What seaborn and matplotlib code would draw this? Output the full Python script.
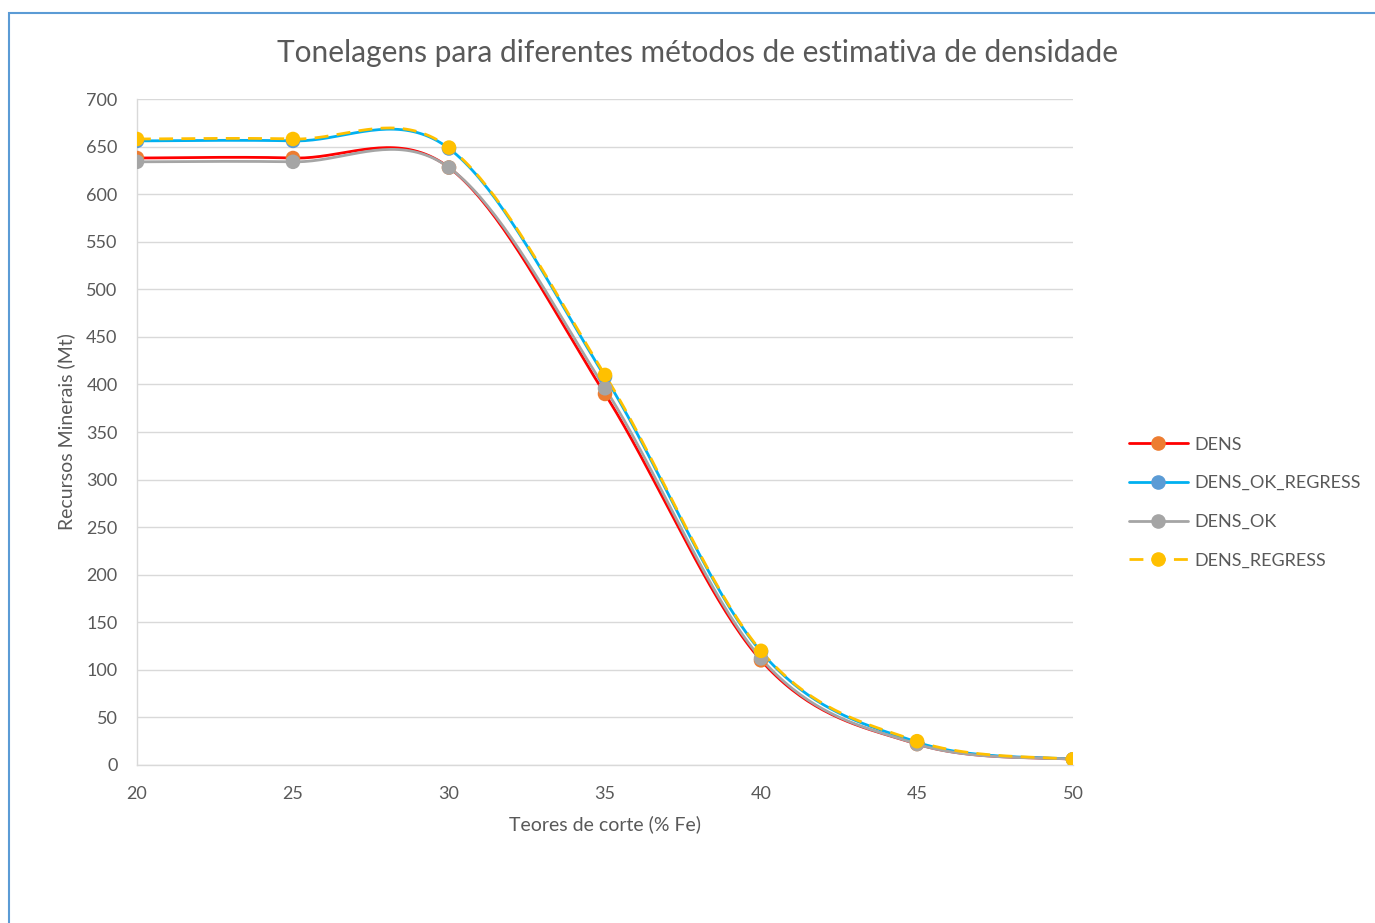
import numpy as np
import pandas as pd
import matplotlib
matplotlib.use("Agg")
import matplotlib.pyplot as plt
from matplotlib.lines import Line2D
from matplotlib.patches import Rectangle
import seaborn as sns

# ---- data ----
cutoffs = [20, 25, 30, 35, 40, 45, 50]
dens = [638, 638, 628, 390, 110, 22, 6]
dens_ok_regress = [656, 656, 648, 408, 119, 24, 6]
dens_ok = [634, 634, 628, 396, 112, 22, 6]
dens_regress = [658, 658, 649, 410, 120, 25, 6]
series_names = ["DENS", "DENS_OK_REGRESS", "DENS_OK", "DENS_REGRESS"]
title = "Tonelagens para diferentes métodos de estimativa de densidade"
xlabel = "Teores de corte (% Fe)"
ylabel = "Recursos Minerais (Mt)"

series = dict(zip(series_names, [dens, dens_ok_regress, dens_ok, dens_regress]))
line_colors = {"DENS": "#FF0000", "DENS_OK_REGRESS": "#00B0F0",
               "DENS_OK": "#A5A5A5", "DENS_REGRESS": "#FFC000"}
marker_colors = {"DENS": "#ED7D31", "DENS_OK_REGRESS": "#5B9BD5",
                 "DENS_OK": "#A5A5A5", "DENS_REGRESS": "#FFC000"}


def smooth(x, y, n=40):
    """Catmull-Rom style smoothing (as in spreadsheet 'smoothed line')."""
    x = np.asarray(x, float)
    y = np.asarray(y, float)
    xs, ys = [], []
    for i in range(len(x) - 1):
        p0 = np.array([x[max(i - 1, 0)], y[max(i - 1, 0)]])
        p1 = np.array([x[i], y[i]])
        p2 = np.array([x[i + 1], y[i + 1]])
        p3 = np.array([x[min(i + 2, len(x) - 1)], y[min(i + 2, len(x) - 1)]])
        c1 = p1 + (p2 - p0) / 6
        c2 = p2 - (p3 - p1) / 6
        t = np.linspace(0, 1, n, endpoint=(i == len(x) - 2))[:, None]
        pts = ((1 - t) ** 3) * p1 + 3 * ((1 - t) ** 2) * t * c1 + 3 * (1 - t) * t ** 2 * c2 + t ** 3 * p2
        xs.append(pts[:, 0])
        ys.append(pts[:, 1])
    return np.concatenate(xs), np.concatenate(ys)


sns.set_theme(style="white")
plt.rcParams["font.family"] = ["Lato", "DejaVu Sans"]
text_color = "#595959"
dash = (0, (5, 3))

fig = plt.figure(figsize=(13.75, 9.23), dpi=100)
ax = fig.add_axes([0.0996, 0.1712, 0.6808, 0.7215])

for name in series_names:
    sx, sy = smooth(cutoffs, series[name])
    df = pd.DataFrame({"x": sx, "y": sy})
    dashed = name == "DENS_REGRESS"
    sns.lineplot(data=df, x="x", y="y", ax=ax, color=line_colors[name],
                 linewidth=2.0, sort=False, estimator=None,
                 linestyle=dash if dashed else "-", zorder=3)
    pdf = pd.DataFrame({"x": cutoffs, "y": series[name]})
    sns.scatterplot(data=pdf, x="x", y="y", ax=ax, color=marker_colors[name],
                    s=110, edgecolor="none", linewidth=0, zorder=4)

ax.set_xlim(20, 50)
ax.set_ylim(0, 700)
ax.set_xticks(cutoffs)
ax.set_yticks(np.arange(0, 701, 50))
ax.yaxis.grid(True, color="#D9D9D9", linewidth=1)
ax.xaxis.grid(False)
ax.tick_params(axis="both", length=0, labelsize=13, labelcolor=text_color)
ax.tick_params(axis="y", pad=14)
ax.tick_params(axis="x", pad=15)
for s in ["top", "right"]:
    ax.spines[s].set_visible(False)
for s in ["left", "bottom"]:
    ax.spines[s].set_color("#D9D9D9")
    ax.spines[s].set_linewidth(1)
ax.set_xlabel(xlabel, fontsize=14, color=text_color, labelpad=10)
ax.set_ylabel(ylabel, fontsize=14, color=text_color, labelpad=8)
fig.text(0.507, 0.9426, title, ha="center", va="center", fontsize=21.5, color=text_color)

handles = []
for name in series_names:
    handles.append(Line2D([0], [0], color=line_colors[name], linewidth=2.0,
                          linestyle=dash if name == "DENS_REGRESS" else "-",
                          marker="o", markersize=9.5, markerfacecolor=marker_colors[name],
                          markeredgecolor=marker_colors[name]))
leg = fig.legend(handles, series_names, loc="center left", bbox_to_anchor=(0.809, 0.4555),
                 frameon=False, fontsize=13, handlelength=3.3, labelspacing=1.25,
                 handletextpad=0.35)
for t in leg.get_texts():
    t.set_color(text_color)

fig.patches.append(Rectangle((9 / 1375, -0.05), 1.2, (923 - 13) / 923 + 0.05,
                             transform=fig.transFigure, fill=False,
                             edgecolor="#5B9BD5", linewidth=1.5, zorder=0))

fig.savefig("out.png", dpi=100)
